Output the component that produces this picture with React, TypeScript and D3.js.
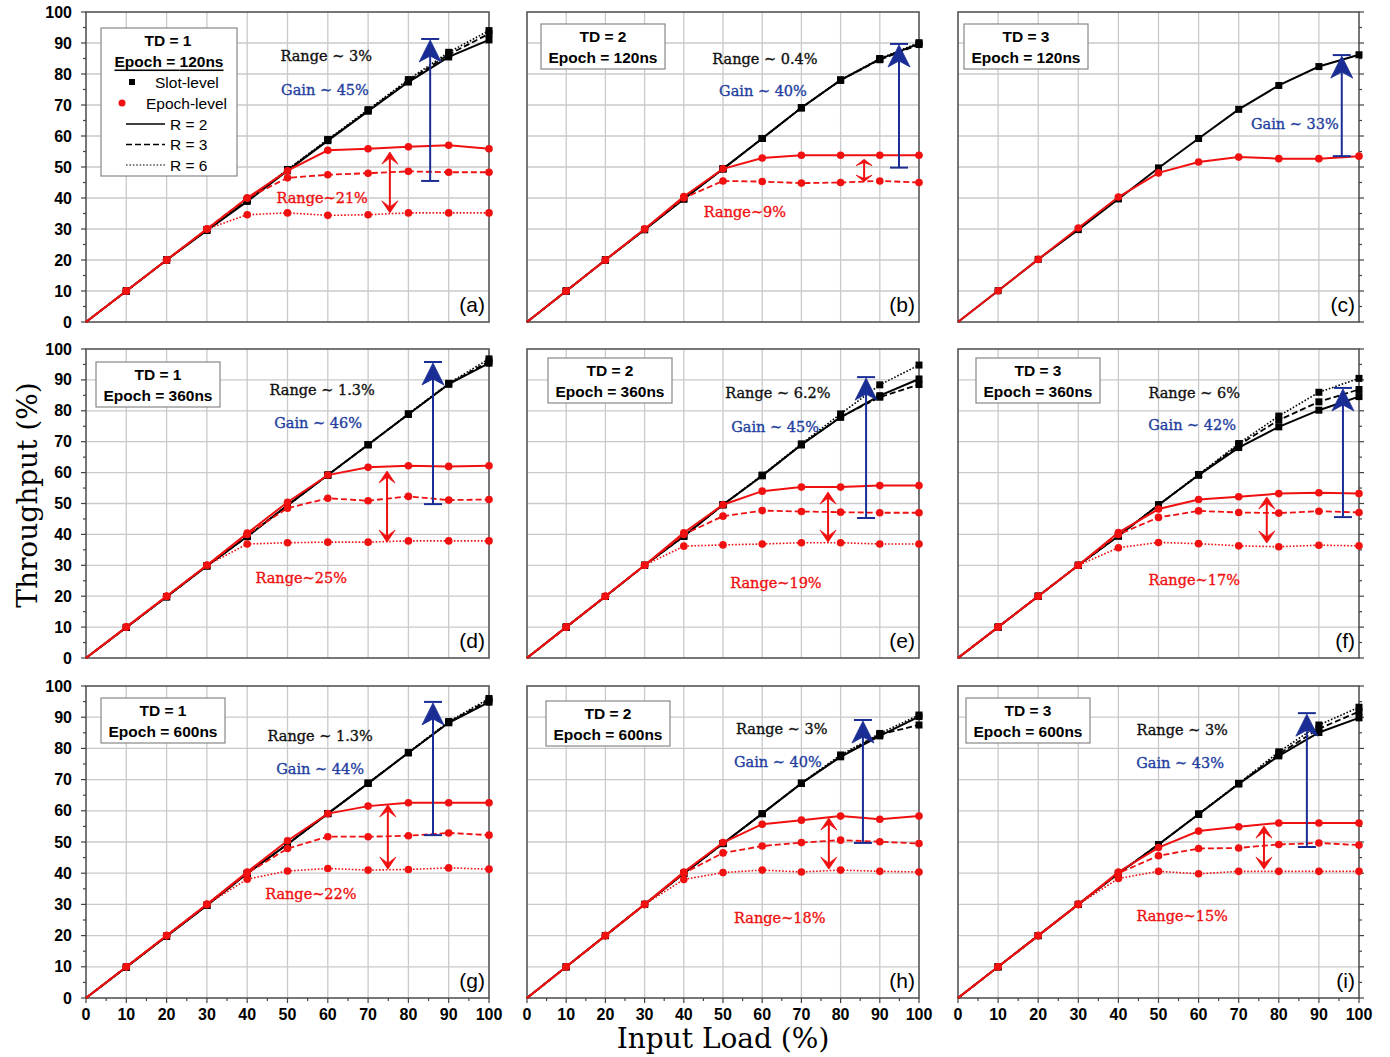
import React from "react";
import * as d3 from "d3";

// input load (%) on the x axis
const loads = [0, 10, 20, 30, 40, 50, 60, 70, 80, 90, 100];

// slot-level throughput, one array per R (2, 3, 6)
const slotA = [
  [0, 10, 20, 29.5, 38.9, 48.8, 58.5, 68, 77.4, 85.5, 91],
  [0, 10, 20, 29.7, 39.2, 49, 58.7, 68.2, 77.8, 86.3, 93],
  [0, 10, 20, 29.8, 39.4, 49.2, 58.9, 68.5, 78.2, 87, 94],
];
const slotB = [
  [0, 10, 20, 29.8, 39.7, 49.4, 59.2, 69.1, 78, 84.8, 89.8],
  [0, 10, 20, 29.8, 39.7, 49.4, 59.2, 69.1, 78, 84.6, 89.5],
  [0, 10, 20, 29.8, 39.7, 49.4, 59.2, 69.1, 78.1, 85, 90.1],
];
const slotC = [[0, 10.1, 20.2, 29.8, 39.7, 49.7, 59.2, 68.6, 76.3, 82.4, 86.2]];
const slotD = [
  [0, 9.9, 19.8, 29.8, 39.3, 49.4, 59.2, 69, 78.9, 88.6, 95.4],
  [0, 9.9, 19.8, 29.8, 39.3, 49.4, 59.2, 69, 78.9, 88.7, 96],
  [0, 9.9, 19.8, 29.8, 39.3, 49.4, 59.2, 69.1, 79, 88.9, 96.8],
];
const slotE = [
  [0, 10, 19.9, 30, 39.4, 49.6, 59, 69, 77.9, 84.9, 90.3],
  [0, 10, 19.9, 30, 39.4, 49.6, 59, 69, 78, 84.4, 88.5],
  [0, 10, 19.9, 30, 39.4, 49.6, 59.2, 69.3, 79, 88.4, 94.8],
];
const slotF = [
  [0, 10, 20, 30, 39.5, 49.5, 59.2, 68.1, 74.8, 80.2, 84.6],
  [0, 10, 20, 30, 39.5, 49.5, 59.2, 68.9, 77, 82.9, 86.9],
  [0, 10, 20, 30, 39.5, 49.6, 59.4, 69.4, 78.3, 86, 90.5],
];
const slotG = [
  [0, 9.9, 19.8, 29.7, 39.9, 49.3, 59.1, 68.8, 78.6, 88.2, 94.8],
  [0, 9.9, 19.8, 29.7, 39.9, 49.3, 59.1, 68.8, 78.6, 88.4, 95.5],
  [0, 9.9, 19.8, 29.7, 39.9, 49.3, 59.1, 68.9, 78.7, 88.6, 96],
];
const slotH = [
  [0, 10, 20, 30, 39.9, 49.5, 59.1, 68.8, 77.3, 84, 90.2],
  [0, 10, 20, 30, 39.9, 49.5, 59.1, 68.8, 77.5, 84.5, 87.5],
  [0, 10, 20, 30, 39.9, 49.5, 59.1, 68.9, 77.9, 84.8, 90.7],
];
const slotI = [
  [0, 10, 20, 30, 39.9, 49.2, 58.9, 68.6, 77.6, 85.1, 89.8],
  [0, 10, 20, 30, 39.9, 49.2, 58.9, 68.7, 78.2, 86.3, 91.8],
  [0, 10, 20, 30, 39.9, 49.2, 59, 68.8, 78.9, 87.5, 93.2],
];

// epoch-level throughput, one array per R (2, 3, 6)
const epochA = [
  [0, 10, 20, 30, 40, 48.8, 55.4, 55.9, 56.5, 57, 55.9],
  [0, 10, 20, 30, 40, 46.5, 47.5, 48, 48.6, 48.3, 48.3],
  [0, 10, 20, 30, 34.6, 35.2, 34.4, 34.6, 35.2, 35.2, 35.2],
];
const epochB = [
  [0, 10, 20, 30, 40.5, 49.4, 52.9, 53.8, 53.8, 53.8, 53.8],
  [0, 10, 20, 30, 40, 45.5, 45.3, 44.8, 45, 45.5, 45],
];
const epochC = [[0, 10.1, 20.2, 30.3, 40.3, 48.1, 51.6, 53.2, 52.7, 52.7, 53.5]];
const epochD = [
  [0, 10, 20, 30, 40.4, 50.4, 59.2, 61.7, 62.2, 62, 62.2],
  [0, 10, 20, 30, 40, 48.5, 51.7, 50.9, 52.3, 51.1, 51.3],
  [0, 10, 20, 30, 36.9, 37.3, 37.5, 37.5, 37.9, 37.9, 37.9],
];
const epochE = [
  [0, 10, 20, 30, 40.5, 49.6, 54, 55.3, 55.3, 55.8, 55.8],
  [0, 10, 20, 30, 40, 45.9, 47.7, 47.4, 47.2, 47, 47],
  [0, 10, 20, 30, 36.2, 36.6, 36.9, 37.3, 37.3, 36.9, 36.9],
];
const epochF = [
  [0, 10, 20, 30, 40.6, 48.2, 51.3, 52.2, 53.2, 53.5, 53.2],
  [0, 10, 20, 30, 40, 45.5, 47.6, 47.1, 46.9, 47.5, 47.1],
  [0, 10, 20, 30, 35.7, 37.4, 37, 36.3, 36, 36.5, 36.3],
];
const epochG = [
  [0, 10, 20, 30, 40.4, 50.4, 59.1, 61.5, 62.6, 62.6, 62.6],
  [0, 10, 20, 30, 40, 47.9, 51.7, 51.7, 52, 52.9, 52.2],
  [0, 10, 20, 30, 38.1, 40.7, 41.5, 41, 41.2, 41.7, 41.3],
];
const epochH = [
  [0, 10, 20, 30, 40.4, 49.8, 55.7, 57, 58.3, 57.3, 58.3],
  [0, 10, 20, 30, 40, 46.5, 48.7, 49.8, 50.6, 50.1, 49.5],
  [0, 10, 20, 30, 38, 40.2, 41, 40.4, 41, 40.6, 40.4],
];
const epochI = [
  [0, 10, 20, 30, 40.4, 48.2, 53.5, 54.9, 56.1, 56.1, 56.1],
  [0, 10, 20, 30, 40, 45.6, 47.9, 48.1, 49.2, 49.7, 49],
  [0, 10, 20, 30, 38.3, 40.6, 39.8, 40.6, 40.6, 40.6, 40.6],
];

const panelLetters = ["a", "b", "c", "d", "e", "f", "g", "h", "i"];
const tdValues = [1, 2, 3, 1, 2, 3, 1, 2, 3];
const epochLengths = ["120ns", "120ns", "120ns", "360ns", "360ns", "360ns", "600ns", "600ns", "600ns"];
const slotRangeLabels = ["Range ~ 3%", "Range ~ 0.4%", "", "Range ~ 1.3%", "Range ~ 6.2%", "Range ~ 6%", "Range ~ 1.3%", "Range ~ 3%", "Range ~ 3%"];
const gainLabels = ["Gain ~ 45%", "Gain ~ 40%", "Gain ~ 33%", "Gain ~ 46%", "Gain ~ 45%", "Gain ~ 42%", "Gain ~ 44%", "Gain ~ 40%", "Gain ~ 43%"];
const epochRangeLabels = ["Range~21%", "Range~9%", "", "Range~25%", "Range~19%", "Range~17%", "Range~22%", "Range~18%", "Range~15%"];
const rTicks = ["R = 2", "R = 3", "R = 6"];
const xTicks = [0, 10, 20, 30, 40, 50, 60, 70, 80, 90, 100];

// gain arrows: [load, from, to]; epoch range arrows: [load, from, to]
const gainArrows = [
  [85.4, 45.5, 91.3], [94.9, 49.8, 89.7], [95.7, 53.5, 86.1],
  [86.1, 49.8, 95.8], [86.5, 45.3, 90.9], [96, 45.6, 87.4],
  [86.1, 52.2, 94.9], [85.7, 49.7, 89.1], [87, 48.4, 91.3],
];
const rangeArrows = [
  [75.4, 35.2, 54.8], [86, 45.3, 52.5], null,
  [74.7, 37.5, 60.5], [76.8, 37.5, 53.7], [77, 37.2, 52.1],
  [74.9, 41.3, 61.9], [77, 41.3, 57.7], [76.3, 41.3, 55.1],
];

const slotSeries = [slotA, slotB, slotC, slotD, slotE, slotF, slotG, slotH, slotI];
const epochSeries = [epochA, epochB, epochC, epochD, epochE, epochF, epochG, epochH, epochI];

// layout
const W = 1390;
const H = 1057;
const colX = [[86, 489], [527, 919], [958, 1359]];
const rowY = [[12, 322], [349, 658], [686, 998]];
// annotation text anchors in data units [x, y]
const slotRangePos = [[59.6, 85.8], [60.7, 84.8], null, [58.6, 86.7], [64, 85.8], [58.9, 85.8], [58.1, 84], [65, 86.2], [55.9, 85.9]];
const gainPos = [[59.3, 74.8], [60.2, 74.5], [84, 63.9], [57.6, 76], [63.3, 74.8], [58.4, 75.4], [58.1, 73.4], [64, 75.6], [55.4, 75.3]];
const epochRangePos = [[58.6, 40], [55.6, 35.5], null, [53.4, 25.9], [63.5, 24.3], [58.9, 25.2], [55.8, 33.3], [64.5, 25.6], [55.9, 26.3]];
// legend box offsets from plot corner (px)
const legendOffset = [[15, 16], [14, 12], [6, 12], [10, 13], [21, 9], [18, 9], [15, 12], [19, 15], [8, 12]];

const SANS = "'Liberation Sans', Arial, sans-serif";
const SERIF = "'DejaVu Serif', serif";
const RED = "#f01010";
const BLUE_TXT = "#2340a0";
const BLUE = "#1a2d94";
const dashes = ["none", "6,3", "1.6,1.8"];
const widths = [2, 1.8, 1.6];

function Legend({ i, x0, y0 }) {
  const [dx, dy] = legendOffset[i];
  const bx = x0 + dx;
  const by = y0 + dy;
  if (i === 0) {
    const w = 136;
    const h = 148;
    return (
      <g fontFamily={SANS} fontSize={15.5}>
        <rect x={bx} y={by} width={w} height={h} fill="#fff" stroke="#888" strokeWidth={1.2} />
        <text x={bx + 67} y={by + 12} textAnchor="middle" dominantBaseline="central" fontWeight="bold">
          TD = {tdValues[i]}
        </text>
        <text x={bx + 68} y={by + 33} textAnchor="middle" dominantBaseline="central" fontWeight="bold" textDecoration="underline">
          Epoch = {epochLengths[i]}
        </text>
        <rect x={bx + 28} y={by + 51} width={6} height={6} fill="#000" />
        <text x={bx + 54} y={by + 54} dominantBaseline="central">Slot-level</text>
        <circle cx={bx + 21} cy={by + 75} r={3.5} fill={RED} />
        <text x={bx + 45} y={by + 75} dominantBaseline="central">Epoch-level</text>
        {rTicks.map((t, k) => (
          <g key={t}>
            <line x1={bx + 25} x2={bx + 64} y1={by + 96 + k * 20.5} y2={by + 96 + k * 20.5} stroke="#000" strokeWidth={k === 2 ? 1.2 : 1.6} strokeDasharray={dashes[k]} />
            <text x={bx + 69} y={by + 96 + k * 20.5} dominantBaseline="central">{t}</text>
          </g>
        ))}
      </g>
    );
  }
  const w = 124;
  const h = 45;
  return (
    <g fontFamily={SANS} fontSize={15.5} fontWeight="bold">
      <rect x={bx} y={by} width={w} height={h} fill="#fff" stroke="#888" strokeWidth={1.2} />
      <text x={bx + w / 2} y={by + 12} textAnchor="middle" dominantBaseline="central">TD = {tdValues[i]}</text>
      <text x={bx + w / 2} y={by + 33} textAnchor="middle" dominantBaseline="central">Epoch = {epochLengths[i]}</text>
    </g>
  );
}

function Panel({ i }) {
  const col = i % 3;
  const row = Math.floor(i / 3);
  const [x0, x1] = colX[col];
  const [yTop, yBot] = rowY[row];
  const x = d3.scaleLinear().domain([0, 100]).range([x0, x1]);
  const y = d3.scaleLinear().domain([0, 100]).range([yBot, yTop]);
  const line = d3
    .line<number>()
    .x((_, k) => x(loads[k]))
    .y((d) => y(d));
  const grid = d3.range(10, 100, 10);
  const minor = d3.range(5, 100, 10);

  const ga = gainArrows[i];
  const gx = x(ga[0]);
  const gb = y(ga[1]);
  const gt = y(ga[2]);
  const ra = rangeArrows[i];
  let redArrow = null;
  if (ra) {
    const rx = x(ra[0]);
    const rb = y(ra[1]);
    const rt = y(ra[2]);
    const hh = Math.min(12, (rb - rt) / 3.5); // flatter heads on short arrows
    const notch = hh * 0.5;
    redArrow = (
      <g stroke={RED} fill={RED}>
        <line x1={rx} x2={rx} y1={rb - 2} y2={rt + 2} strokeWidth={2} />
        <path d={`M${rx},${rt} L${rx + 8},${rt + hh} L${rx},${rt + notch} L${rx - 8},${rt + hh} Z`} strokeWidth={0.8} />
        <path d={`M${rx},${rb} L${rx + 8},${rb - hh} L${rx},${rb - notch} L${rx - 8},${rb - hh} Z`} strokeWidth={0.8} />
      </g>
    );
  }

  return (
    <g>
      {/* grid */}
      {grid.map((v) => (
        <g key={v} stroke="#cacaca" strokeWidth={1.3}>
          <line x1={x(v)} x2={x(v)} y1={yTop} y2={yBot} />
          <line x1={x0} x2={x1} y1={y(v)} y2={y(v)} />
        </g>
      ))}
      <rect x={x0} y={yTop} width={x1 - x0} height={yBot - yTop} fill="none" stroke="#555" strokeWidth={1.6} />

      {/* left axis ticks */}
      {col === 0 && (
        <g stroke="#444" strokeWidth={1.2}>
          {xTicks.map((v) => <line key={v} x1={x0 - 5} x2={x0} y1={y(v)} y2={y(v)} />)}
          {minor.map((v) => <line key={"m" + v} x1={x0 - 3} x2={x0} y1={y(v)} y2={y(v)} />)}
        </g>
      )}
      {col === 0 && (
        <g fontFamily={SANS} fontSize={16} fontWeight="bold" textAnchor="end">
          {xTicks.map((v) => (
            <text key={v} x={x0 - 14} y={y(v)} dominantBaseline="central">{v}</text>
          ))}
        </g>
      )}
      {col === 2 && (
        <g stroke="#444" strokeWidth={1.2}>
          {xTicks.map((v) => <line key={v} x1={x1} x2={x1 + 5} y1={y(v)} y2={y(v)} />)}
          {minor.map((v) => <line key={"m" + v} x1={x1} x2={x1 + 3} y1={y(v)} y2={y(v)} />)}
        </g>
      )}
      {row === 2 && (
        <g>
          <g stroke="#444" strokeWidth={1.2}>
            {xTicks.map((v) => <line key={v} x1={x(v)} x2={x(v)} y1={yBot} y2={yBot + 5} />)}
            {minor.map((v) => <line key={"m" + v} x1={x(v)} x2={x(v)} y1={yBot} y2={yBot + 3} />)}
          </g>
          <g fontFamily={SANS} fontSize={16} fontWeight="bold" textAnchor="middle">
            {xTicks.map((v) => (
              <text key={v} x={x(v)} y={yBot + 16} dominantBaseline="central">{v}</text>
            ))}
          </g>
        </g>
      )}

      {/* slot-level series */}
      {slotSeries[i].map((s, k) => (
        <path key={"sl" + k} d={line(s) || ""} fill="none" stroke="#000" strokeWidth={widths[k]} strokeDasharray={dashes[k]} />
      ))}
      {slotSeries[i].map((s, k) => (
        <g key={"sm" + k}>
          {s.map((v, j) => (j === 0 ? null : <rect key={j} x={x(loads[j]) - 3.5} y={y(v) - 3.5} width={7} height={7} fill="#000" />))}
        </g>
      ))}

      {/* epoch-level series */}
      {epochSeries[i].map((s, k) => (
        <path key={"el" + k} d={line(s) || ""} fill="none" stroke={RED} strokeWidth={widths[k]} strokeDasharray={dashes[k]} />
      ))}
      {epochSeries[i].map((s, k) => (
        <g key={"em" + k}>
          {s.map((v, j) => (j === 0 ? null : <circle key={j} cx={x(loads[j])} cy={y(v)} r={3.8} fill={RED} />))}
        </g>
      ))}

      {/* gain arrow */}
      <g stroke={BLUE} strokeWidth={2} fill={BLUE}>
        <line x1={gx} x2={gx} y1={gb} y2={gt + 12} />
        <line x1={gx - 9} x2={gx + 9} y1={gb} y2={gb} />
        <line x1={gx - 9} x2={gx + 9} y1={gt} y2={gt} />
        <path d={`M${gx},${gt + 1} L${gx + 11},${gt + 23} L${gx},${gt + 17} L${gx - 11},${gt + 23} Z`} strokeWidth={0.8} />
      </g>

      {redArrow}

      {/* annotations */}
      <g fontFamily={SERIF} fontSize={14.5} textAnchor="middle" dominantBaseline="central" strokeWidth={0.35}>
        {slotRangePos[i] && (
          <text x={x(slotRangePos[i][0])} y={y(slotRangePos[i][1])} fill="#111" stroke="#111">{slotRangeLabels[i]}</text>
        )}
        <text x={x(gainPos[i][0])} y={y(gainPos[i][1])} fill={BLUE_TXT} stroke={BLUE_TXT}>{gainLabels[i]}</text>
        {epochRangePos[i] && (
          <text x={x(epochRangePos[i][0])} y={y(epochRangePos[i][1])} fill={RED} stroke={RED}>{epochRangeLabels[i]}</text>
        )}
      </g>

      <Legend i={i} x0={x0} y0={yTop} />

      <text x={x1 - 4} y={yBot - 10} textAnchor="end" fontFamily={SANS} fontSize={21}>
        ({panelLetters[i]})
      </text>
    </g>
  );
}

export default function App() {
  return (
    <svg width={W} height={H} style={{ position: "absolute", left: 0, top: 0, background: "#fff" }}>
      <rect width={W} height={H} fill="#fff" />
      {panelLetters.map((_, i) => (
        <Panel key={i} i={i} />
      ))}
      <text x={723} y={1038} textAnchor="middle" dominantBaseline="central" fontFamily={SERIF} fontSize={28}>
        Input Load (%)
      </text>
      <text transform="translate(27,495) rotate(-90)" textAnchor="middle" dominantBaseline="central" fontFamily={SERIF} fontSize={28}>
        Throughput  (%)
      </text>
    </svg>
  );
}
